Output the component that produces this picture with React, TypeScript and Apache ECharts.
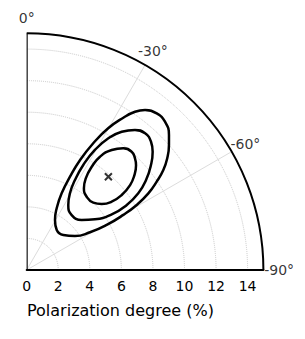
import React, { useEffect, useRef } from "react";
import * as echarts from "echarts";

// Radial axis (polarization degree, %) and angle ticks (degrees)
const radiusTicks = [0, 2, 4, 6, 8, 10, 12, 14];
const angleTicks = [0, -30, -60, -90];
const axisName = "Polarization degree (%)";

// Contours: [radius (%), angle (deg)]
const contourOuter: number[][] = [
  [12.61, -36.5], [12.9, -39.7], [12.85, -43.0], [12.43, -46.5], [12.0, -48.7],
  [11.38, -51.5], [10.73, -53.8], [9.96, -55.8], [9.11, -57.8], [8.1, -59.4],
  [7.05, -60.3], [5.82, -60.6], [4.67, -59.2], [3.74, -54.9], [3.21, -46.3],
  [3.17, -36.9], [3.64, -29.5], [4.35, -25.9], [5.34, -24.5], [6.52, -24.9],
  [7.75, -25.9], [9.07, -27.7], [10.36, -29.9], [11.43, -32.4], [12.15, -34.4],
];
const contourMiddle: number[][] = [
  [11.22, -37.7], [11.46, -40.9], [11.32, -44.1], [10.95, -46.8], [10.31, -49.8],
  [9.47, -53.0], [8.58, -55.5], [7.56, -57.0], [6.44, -56.8], [5.39, -53.4],
  [4.71, -47.7], [4.5, -39.3], [4.89, -32.6], [5.58, -29.4], [6.47, -28.2],
  [7.56, -28.3], [8.75, -29.6], [9.82, -31.8], [10.63, -34.5],
];
const contourInner: number[][] = [
  [9.85, -38.4], [10.02, -41.6], [9.86, -44.1], [9.6, -46.2], [9.1, -48.6],
  [8.48, -50.6], [7.67, -51.7], [6.91, -51.2], [6.33, -48.7], [6.0, -44.7],
  [6.0, -39.3], [6.32, -35.0], [6.91, -32.8], [7.73, -32.2], [8.55, -32.9],
  [9.32, -35.3],
];
const bestFit: number[][] = [[7.86, -41.2]];

const FONT = "DejaVu Sans";
const LABEL_R = 16;

function closeLoop(pts: number[][]) {
  return [pts[pts.length - 1], ...pts, pts[0], pts[1]];
}

export default function App() {
  const ref = useRef<HTMLDivElement>(null);
  useEffect(() => {
    if (!ref.current) return;
    const chart = echarts.init(ref.current, null, { renderer: "svg" });
    const contourStyle = { color: "#000", width: 2.5 };
    const contour = (pts: number[][]) => ({
      type: "line",
      coordinateSystem: "polar",
      data: closeLoop(pts),
      symbol: "none",
      smooth: 0.5,
      clip: false,
      lineStyle: contourStyle,
    });
    chart.setOption({
      animation: false,
      polar: { center: [26.7, 270], radius: 236.7 },
      angleAxis: {
        type: "value",
        min: -90,
        max: 0,
        interval: 30,
        startAngle: 0,
        endAngle: 90,
        clockwise: false,
        axisLine: { show: true, lineStyle: { color: "#000", width: 2 } },
        axisTick: { show: false },
        axisLabel: { show: false },
        splitLine: { show: true, lineStyle: { color: "#dcdcdc", width: 1 } },
      },
      radiusAxis: {
        type: "value",
        min: 0,
        max: 15,
        interval: 2,
        axisLine: { show: true, lineStyle: { color: "#000", width: 2 } },
        axisTick: { show: false },
        axisLabel: {
          color: "#000",
          fontSize: 14,
          fontFamily: FONT,
          showMaxLabel: false,
          margin: -9,
          verticalAlign: "top",
          formatter: (v: number) => (radiusTicks.includes(v) ? String(v) : ""),
        },
        splitLine: { show: true, lineStyle: { color: "#c8c8c8", type: "dotted", width: 1 } },
      },
      graphic: [
        {
          type: "text",
          left: 27,
          top: 302,
          style: { text: axisName, font: `16px "${FONT}"`, fill: "#000" },
        },
      ],
      series: [
        {
          type: "line",
          coordinateSystem: "polar",
          data: [[0, 0], [15, 0]],
          symbol: "none",
          clip: false,
          lineStyle: { color: "#000", width: 2 },
          silent: true,
        },
        contour(contourOuter),
        contour(contourMiddle),
        contour(contourInner),
        {
          type: "scatter",
          coordinateSystem: "polar",
          data: bestFit,
          symbol: "path://M0 0L10 10M10 0L0 10",
          symbolSize: 7,
          itemStyle: { color: "transparent", borderColor: "#000", borderWidth: 2 },
        },
        {
          type: "scatter",
          coordinateSystem: "polar",
          data: angleTicks.map((a) => [LABEL_R, a]),
          symbolSize: 1,
          clip: false,
          itemStyle: { color: "transparent" },
          label: {
            show: true,
            position: "inside",
            color: "#000",
            fontSize: 14,
            fontFamily: FONT,
            formatter: (p: any) => `${p.value[1]}°`,
          },
          silent: true,
        },
      ],
    });
    return () => chart.dispose();
  }, []);
  return (
    <div
      ref={ref}
      style={{ position: "absolute", left: 0, top: 0, width: 305, height: 339 }}
    />
  );
}
